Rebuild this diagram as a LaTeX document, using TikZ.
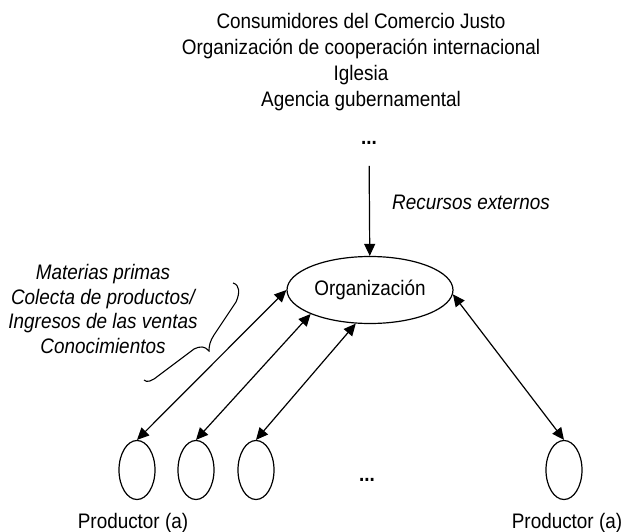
\documentclass[tikz,border=0pt]{standalone}
\usepackage{fontspec}
\setmainfont[FakeStretch=0.9]{Liberation Sans}
\usetikzlibrary{shapes.geometric, arrows.meta}

\begin{document}
\begin{tikzpicture}[
    x=1pt, y=-1pt,
    >={Triangle[length=12pt, width=11pt]},
    orgnode/.style={ellipse, draw=black, line width=1.2pt, minimum width=166pt, minimum height=67pt, inner sep=0pt, font=\fontsize{21}{26}\selectfont},
    prodnode/.style={ellipse, draw=black, line width=1.2pt, minimum width=36pt, minimum height=59pt, inner sep=0pt},
    textnode/.style={inner sep=0pt, align=center, font=\fontsize{21}{26}\selectfont},
    slantnode/.style={inner sep=0pt, align=center, font=\fontsize{21}{24.5}\selectfont\itshape},
    dotsnode/.style={inner sep=0pt, font=\fontsize{21}{26}\selectfont\bfseries},
    flow/.style={line width=1.2pt, <->},
]

    \useasboundingbox (0, 0) rectangle (627, 532);

    % external actors on top (base = last line)
    \node [textnode, anchor=base] at (361, 107) (actors){Consumidores del Comercio Justo\\Organización de cooperación internacional\\Iglesia\\Agencia gubernamental};
    \node [dotsnode] at (369, 143) (topdots){...};

    % the organization
    \node [orgnode] at (370, 290) (org){Organización};

    % external resources flow down
    \draw [line width=1.2pt, ->, shorten <=21pt] (topdots) -- (org) ;
    \node [slantnode, anchor=base] at (471, 210) (extres){Recursos externos};

    % producer ellipses
    \foreach \i/\posX in {1/137, 2/196, 3/256, 4/564}
    {
        \node at (\posX, 470) [prodnode](prod_\i){};
    }
    \node [dotsnode] at (367, 480) (botdots){...};

    % producer labels
    \foreach \i/\posX in {1/133, 4/567}
    {
        \node [textnode, anchor=base] at (\posX, 528) (label_\i){Productor (a)};
    }

    % exchange arrows between producers and organization
    \foreach \i/\ang in {1/180, 2/202, 3/247, 4/357}
    {
        \draw [flow] (prod_\i.north) -- (org.\ang) ;
    }

    % what is exchanged (base = last line)
    \node [slantnode, anchor=base] at (103, 353) (goods){Materias primas\\Colecta de productos/\\Ingresos de las ventas\\Conocimientos};

    % brace
    \draw [line width=1.1pt] (233, 283) .. controls (240, 285) and (240, 293) .. (236, 302) -- (214, 335) .. controls (210, 341) and (209, 346) .. (209, 351) .. controls (205, 346) and (200, 346) .. (194, 349) -- (158, 376) .. controls (152, 381) and (147, 383) .. (144, 380) ;

\end{tikzpicture}
\end{document}
